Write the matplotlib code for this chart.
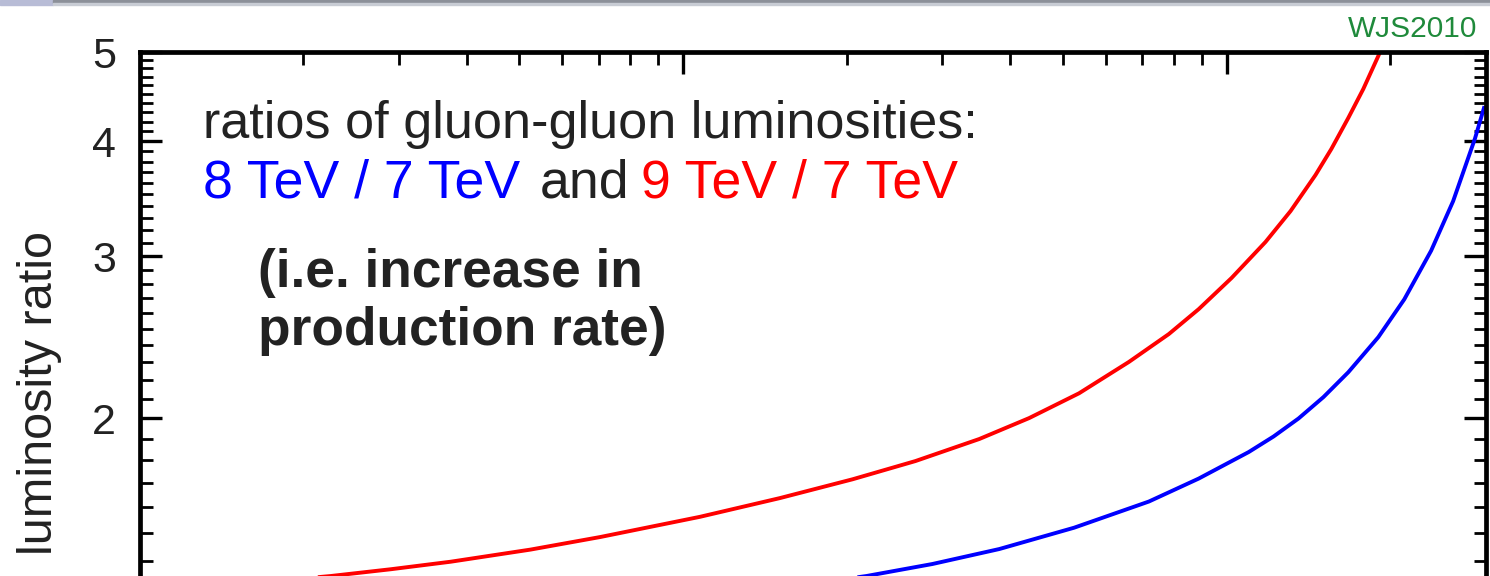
import numpy as np
import matplotlib
matplotlib.use('Agg')
import matplotlib.pyplot as plt
from matplotlib.ticker import FixedLocator, NullFormatter, FixedFormatter, LogLocator
from matplotlib.patches import Rectangle

# ---- data ----
mass_red = [17.47, 22.51, 29.01, 37.37, 52.40, 70.41, 107.4, 150.7, 205.1, 267.6, 350.8,
            433.2, 535.1, 661.1, 782.7, 888.4, 1021, 1179, 1311, 1457, 1558, 1674, 1784,
            1901, 1983]
ratio_red = [1.329, 1.347, 1.370, 1.396, 1.439, 1.485, 1.562, 1.637, 1.716, 1.796, 1.898,
             2.000, 2.128, 2.302, 2.468, 2.627, 2.840, 3.108, 3.358, 3.675, 3.922, 4.239,
             4.558, 4.950, 5.243]

mass_blue = [163.9, 217.6, 287.5, 381.7, 524.0, 719.4, 888.4, 1098, 1220, 1356, 1507,
             1674, 1901, 2122, 2378, 2610, 2863, 2974]
ratio_blue = [1.316, 1.347, 1.388, 1.441, 1.520, 1.623, 1.719, 1.837, 1.910, 1.998, 2.108,
              2.243, 2.449, 2.692, 3.041, 3.442, 4.026, 4.346]

y_major = [2, 3, 4, 5]
y_major_labels = ['2', '3', '4', '5']
x_major = [10, 100, 1000]

title_line1 = 'ratios of gluon-gluon luminosities:'
label_blue = '8 TeV / 7 TeV'
label_and = 'and'
label_red = '9 TeV / 7 TeV'
note_line1 = '(i.e. increase in'
note_line2 = 'production rate)'
ylabel = 'luminosity ratio'
credit = 'WJS2010'

FONT = 'Liberation Sans'
DARK = '#222222'
W, H = 1490, 576

fig = plt.figure(figsize=(W / 100, H / 100), dpi=100)
fig.patch.set_facecolor('white')

# window-edge decoration at top
fig.patches.append(Rectangle((0, 1 - 5 / H), 53 / W, 5 / H, transform=fig.transFigure,
                             color='#b8bcd6', zorder=0))
fig.patches.append(Rectangle((53 / W, 1 - 3 / H), 1, 3 / H, transform=fig.transFigure,
                             color='#8c9099', zorder=0))
fig.patches.append(Rectangle((53 / W, 1 - 5 / H), 1, 2 / H, transform=fig.transFigure,
                             color='#c8ccd4', zorder=0))

ax = fig.add_axes([139.5 / W, (H - 695) / H, 1346.5 / W, 643 / H])
ax.set_xscale('log')
ax.set_yscale('log')
ax.set_xlim(10, 3000)
ax.set_ylim(1, 5)

ax.plot(mass_red, ratio_red, color='#ff0000', lw=2.8, solid_joinstyle='round')
ax.plot(mass_blue, ratio_blue, color='#0000ff', lw=2.8, solid_joinstyle='round')

ax.yaxis.set_major_locator(FixedLocator(y_major))
ax.yaxis.set_major_formatter(FixedFormatter(y_major_labels))
ax.yaxis.set_minor_locator(FixedLocator([v for v in np.round(np.arange(1.1, 5.0, 0.1), 2) if v not in y_major]))
ax.yaxis.set_minor_formatter(NullFormatter())
ax.xaxis.set_major_locator(FixedLocator(x_major))
ax.xaxis.set_minor_locator(LogLocator(base=10, subs=range(2, 10)))
ax.xaxis.set_minor_formatter(NullFormatter())

ax.tick_params(which='both', direction='in', top=True, right=True, bottom=True,
               labelbottom=False, labeltop=False, labelright=False, colors='black')
ax.tick_params(which='major', length=16, width=2.4, pad=17, labelsize=31)
ax.tick_params(which='minor', length=9, width=2.0)
for lab in ax.get_yticklabels():
    lab.set_fontfamily(FONT)
    lab.set_color(DARK)
for s in ax.spines.values():
    s.set_linewidth(3.4)

def fx(px):
    return px / W

def fy(py):
    return 1 - py / H

fig.text(fx(203), fy(138), title_line1, fontsize=37.5, family=FONT, color=DARK, va='baseline', ha='left')
fig.text(fx(203), fy(197), label_blue, fontsize=38.6, family=FONT, color='#0000ff', va='baseline', ha='left')
fig.text(fx(540), fy(197), label_and, fontsize=38.6, family=FONT, color=DARK, va='baseline', ha='left')
fig.text(fx(641), fy(197), label_red, fontsize=38.6, family=FONT, color='#ff0000', va='baseline', ha='left')
fig.text(fx(258), fy(287), note_line1, fontsize=38.3, family=FONT, color=DARK, weight='bold', va='baseline', ha='left')
fig.text(fx(258), fy(345), note_line2, fontsize=38.3, family=FONT, color=DARK, weight='bold', va='baseline', ha='left')
fig.text(fx(40), fy(393), ylabel, fontsize=35, family=FONT, color=DARK, rotation=90, va='center', ha='center')
fig.text(fx(1477), fy(37), credit, fontsize=21.5, family=FONT, color='#1f8a3b', va='baseline', ha='right')

fig.savefig('out.png', dpi=100)
